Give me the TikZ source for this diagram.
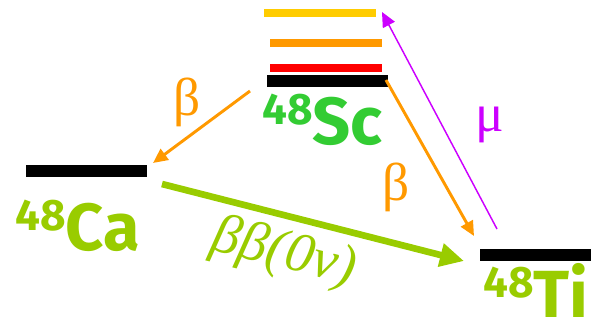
\documentclass[tikz,border=0pt]{standalone}
\usepackage{fontspec}
\setsansfont{Fira Sans}
\newfontfamily\grkfont{Liberation Serif}
\usetikzlibrary{arrows.meta}
\definecolor{scgreen}{HTML}{33CC33}
\definecolor{cagreen}{HTML}{99CC00}
\definecolor{betaorange}{HTML}{FF9900}
\definecolor{muviolet}{HTML}{CC00FF}
\definecolor{lvlyellow}{HTML}{FFCC00}
\newcommand\nucl[2]{{\fontsize{33}{33}\selectfont\raisebox{15pt}{#1}}{\fontsize{50}{50}\selectfont #2}}

\begin{document}
\begin{tikzpicture}[
  x=0.75pt,y=-0.75pt,
  gnd/.style={rectangle,inner sep=0pt,minimum width=90.75pt,minimum height=9pt,fill=black},
  exc/.style={rectangle,inner sep=0pt,minimum width=84pt,minimum height=5.6pt},
  nuc/.style={anchor=base west,inner sep=0pt,font=\sffamily\bfseries},
  grk/.style={inner sep=0pt,font=\grkfont\fontsize{40}{40}\selectfont},
  beta/.style={draw=betaorange,line width=2.2pt,-{Triangle[length=11pt,width=10pt]}}
]
\useasboundingbox (0,0) rectangle (591,322);
\clip (0,0) rectangle (591,322);
% levels
\node[exc,fill=lvlyellow] (sc3) at (320,13) {};
\node[exc,fill=betaorange] (sc2) at (326,43) {};
\node[exc,fill=red] (sc1) at (326,68) {};
\node[gnd] (sc) at (327.5,81) {};
\node[gnd] (ca) at (86.5,171) {};
\node[gnd] (ti) at (540,255) {};
% nuclei
\node[nuc,text=scgreen] (sclbl) at (262,144) {\nucl{48}{Sc}};
\node[nuc,text=cagreen] (calbl) at (15,250) {\nucl{48}{Ca}};
\node[nuc,text=cagreen] (tilbl) at (483,317) {\nucl{48}{Ti}};
% arrow ends
\coordinate (scL) at (250,91);
\coordinate (caR) at (153,163);
\coordinate (scR) at (386,80);
\coordinate (tiL) at (474,236);
\coordinate (tiM) at (497,229);
\coordinate (scT) at (382,12);
\coordinate (caM) at (162,184);
\coordinate (tiW) at (464,261);
\draw[beta] (scL) -- (caR);
\draw[beta] (scR) -- (tiL);
\draw[draw=muviolet,line width=1.1pt,-{Triangle[length=11pt,width=10pt]}] (tiM) -- (scT);
\draw[draw=cagreen,line width=5pt,-{Triangle[length=18pt,width=17pt]}] (caM) -- (tiW);
% labels
\node[grk,text=betaorange] (b1) at (187,102) {β};
\node[grk,text=betaorange] (b2) at (396,187) {β};
\node[grk,text=muviolet] (mu) at (490,125) {μ};
\node[grk,text=cagreen,rotate=-14,font=\grkfont\itshape\fontsize{42}{42}\selectfont] (bb) at (284,254) {ββ(0ν)};
\end{tikzpicture}
\end{document}
